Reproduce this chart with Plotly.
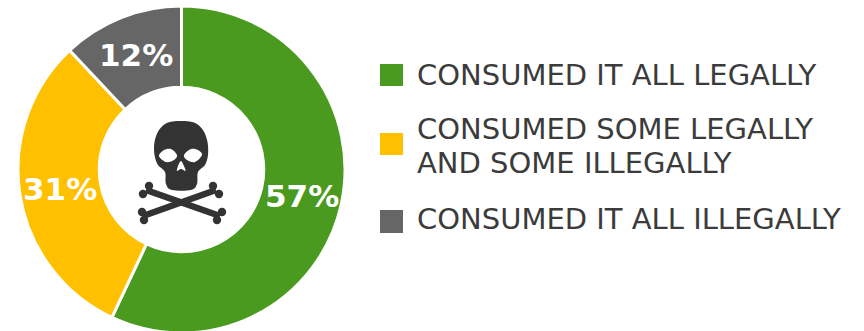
import math
import plotly.graph_objects as go

# Share of respondents by how the product was consumed
category_lines = [["CONSUMED IT ALL LEGALLY"], ["CONSUMED SOME LEGALLY", "AND SOME ILLEGALLY"], ["CONSUMED IT ALL ILLEGALLY"]]
shares = [57, 31, 12]
colors = ["#4a9a1f", "#ffc000", "#666666"]

W, H = 864, 335
FONT = "DejaVu Sans"
INK = "#333333"
TEXT = "#3b3b3b"


def px(x):
    return x / W


def py(y):
    return 1 - y / H


def path(points):
    return "M" + " L".join(f"{px(x):.5f},{py(y):.5f}" for x, y in points) + " Z"


def smooth(points):
    # Closed Catmull-Rom outline converted to cubic segments
    n = len(points)
    out = [f"M{px(points[0][0]):.5f},{py(points[0][1]):.5f}"]
    for i in range(n):
        p0, p1, p2, p3 = points[i - 1], points[i], points[(i + 1) % n], points[(i + 2) % n]
        c1 = (p1[0] + (p2[0] - p0[0]) / 6, p1[1] + (p2[1] - p0[1]) / 6)
        c2 = (p2[0] - (p3[0] - p1[0]) / 6, p2[1] - (p3[1] - p1[1]) / 6)
        out.append(
            f"C{px(c1[0]):.5f},{py(c1[1]):.5f} {px(c2[0]):.5f},{py(c2[1]):.5f} {px(p2[0]):.5f},{py(p2[1]):.5f}"
        )
    return " ".join(out) + " Z"


def blob(**kw):
    return dict(type="path", xref="paper", yref="paper", line=dict(width=0), **kw)


def circle(cx, cy, rx, ry, fill):
    return dict(type="circle", xref="paper", yref="paper", x0=px(cx - rx), x1=px(cx + rx),
                y0=py(cy + ry), y1=py(cy - ry), fillcolor=fill, line=dict(width=0))


shapes = []

# Crossbones: a shaft and two knobs at each end
for a, b, knobs in [
    ((146, 190), (220, 216), [(149, 186), (143, 194), (222, 212), (217, 220)]),
    ((216, 190), (143, 216), [(213, 186), (219, 194), (142, 212), (144, 220)]),
]:
    dx, dy = b[0] - a[0], b[1] - a[1]
    length = (dx * dx + dy * dy) ** 0.5
    nx, ny = -dy / length * 3.2, dx / length * 3.2
    shapes.append(blob(path=path([(a[0] + nx, a[1] + ny), (b[0] + nx, b[1] + ny),
                                  (b[0] - nx, b[1] - ny), (a[0] - nx, a[1] - ny)]), fillcolor=INK))
    for kx, ky in knobs:
        shapes.append(circle(kx, ky, 4.2, 4.2, INK))

# Skull outline, then the eyes and nose cut out in white
skull = [(181, 121), (194, 122.5), (203, 130), (207.5, 142), (208, 155), (205, 165), (198, 172), (197, 184),
         (191, 190), (172, 190), (166, 184), (165, 172), (158, 165), (154.5, 155), (154.5, 142), (159, 130), (168, 122.5)]
shapes.append(blob(path=smooth(skull), fillcolor=INK))
shapes.append(blob(path=smooth([(159, 156), (164, 150), (171, 149), (177, 155), (174, 160), (166, 162)]), fillcolor="white"))
shapes.append(blob(path=smooth([(202, 155), (198, 150), (191, 149), (184, 155), (187, 160), (195, 162)]), fillcolor="white"))
shapes.append(blob(path=smooth([(181, 161), (184, 166), (185.5, 171), (181, 169), (177, 171), (178, 166)]), fillcolor="white"))

# Legend swatches and their labels, one annotation per text line
swatch_top = [64, 133, 210]
swatch_bottom = [86, 155, 233]
label_y = [[75], [129, 163], [219]]
annotations = []
for lines, color, top, bottom, ys in zip(category_lines, colors, swatch_top, swatch_bottom, label_y):
    shapes.append(dict(type="rect", xref="paper", yref="paper", x0=px(380), x1=px(403),
                       y0=py(bottom), y1=py(top), fillcolor=color, line=dict(width=0)))
    for line, y in zip(lines, ys):
        annotations.append(dict(text=line, xref="paper", yref="paper", x=px(414.5), y=py(y), xanchor="left",
                                yanchor="middle", align="left", showarrow=False,
                                font=dict(family=FONT, size=29, color=TEXT)))

# Percent labels sit at the middle of the ring, on each slice's mid angle
CX, CY, R_MID = 181.5, 169.5, 123.5
total = sum(shares)
running = 0
for value in shares:
    angle = 2 * math.pi * (running + value / 2) / total
    running += value
    annotations.append(dict(text=f"<b>{value}%</b>", xref="paper", yref="paper",
                            x=px(CX + R_MID * math.sin(angle)), y=py(CY - R_MID * math.cos(angle)),
                            xanchor="center", yanchor="middle", showarrow=False,
                            font=dict(family=FONT, size=31, color="white")))

fig = go.Figure(
    go.Pie(
        labels=[" ".join(lines) for lines in category_lines],
        values=shares,
        marker=dict(colors=colors, line=dict(color="white", width=3)),
        hole=0.503,
        sort=False,
        direction="clockwise",
        rotation=0,
        textinfo="none",
        domain=dict(x=[px(17.5), px(345.5)], y=[py(333), py(6)]),
        showlegend=False,
    )
)
fig.update_layout(
    width=W,
    height=H,
    margin=dict(l=0, r=0, t=0, b=0),
    paper_bgcolor="white",
    shapes=shapes,
    annotations=annotations,
)
fig.write_html("out.html", post_script="document.documentElement.style.overflow='hidden';document.body.style.overflow='hidden';")
